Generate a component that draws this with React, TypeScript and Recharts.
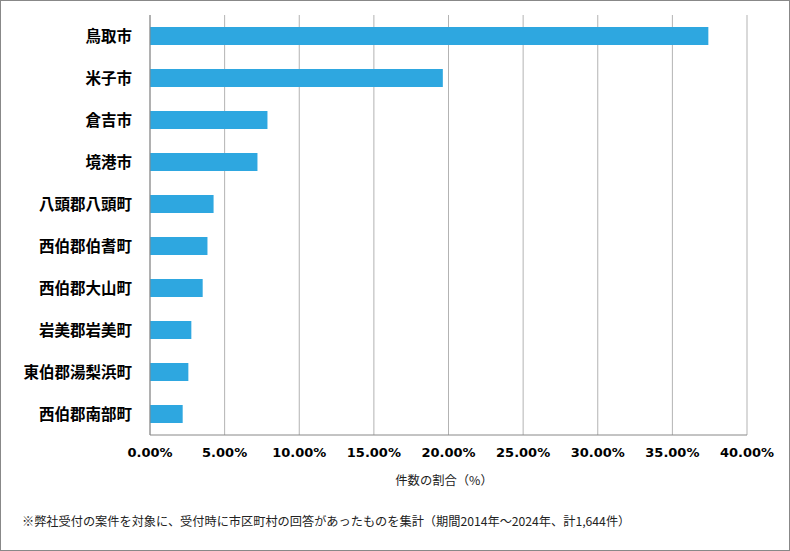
import { BarChart, Bar, XAxis, YAxis, CartesianGrid } from 'recharts'

const municipalities = [
  '鳥取市',
  '米子市',
  '倉吉市',
  '境港市',
  '八頭郡八頭町',
  '西伯郡伯耆町',
  '西伯郡大山町',
  '岩美郡岩美町',
  '東伯郡湯梨浜町',
  '西伯郡南部町',
]

// 件数の割合（%）
const shares = [37.41, 19.62, 7.87, 7.2, 4.26, 3.85, 3.53, 2.77, 2.57, 2.19]

const xTicks = [0, 5, 10, 15, 20, 25, 30, 35, 40]

const axisTitle = '件数の割合（%）'
const footnote =
  '※弊社受付の案件を対象に、受付時に市区町村の回答があったものを集計（期間2014年～2024年、計1,644件）'

const data = municipalities.map((name, i) => ({ name, share: shares[i] }))

const jp = '"Noto Sans CJK JP", "Noto Sans", sans-serif'

export default function App() {
  return (
    <div style={{ position: 'relative', width: 790, height: 551, background: '#fff' }}>
      <style>{'body{margin:0}'}</style>
      <BarChart
        width={790}
        height={551}
        data={data}
        layout="vertical"
        margin={{ top: 15, right: 43, left: 0, bottom: 86 }}
        barSize={18}
      >
        <CartesianGrid horizontal={false} stroke="#b3b3b3" />
        <XAxis
          type="number"
          domain={[0, 40]}
          ticks={xTicks}
          interval={0}
          tickFormatter={(v: number) => v.toFixed(2) + '%'}
          tick={{ fontSize: 13, fontWeight: 'bold', fill: '#000', fontFamily: '"DejaVu Sans", sans-serif' }}
          tickLine={false}
          tickMargin={7}
          axisLine={{ stroke: '#888' }}
          height={30}
        />
        <YAxis
          type="category"
          dataKey="name"
          width={150}
          interval={0}
          tick={{ fontSize: 15.5, fontWeight: 'bold', fill: '#000', fontFamily: jp }}
          tickLine={false}
          tickMargin={12}
          axisLine={{ stroke: '#888' }}
        />
        <Bar dataKey="share" fill="#2ea7e0" isAnimationActive={false} />
      </BarChart>
      <div
        style={{
          position: 'absolute',
          left: 0,
          width: 888,
          top: 471,
          textAlign: 'center',
          fontFamily: jp,
          fontSize: 12.3,
          color: '#222',
        }}
      >
        {axisTitle}
      </div>
      <div
        style={{
          position: 'absolute',
          left: 22,
          top: 512,
          fontFamily: jp,
          fontSize: 12.2,
          color: '#222',
          whiteSpace: 'nowrap',
        }}
      >
        {footnote}
      </div>
      <div
        style={{
          position: 'absolute',
          inset: 0,
          border: '1px solid #888',
          pointerEvents: 'none',
        }}
      />
    </div>
  )
}
